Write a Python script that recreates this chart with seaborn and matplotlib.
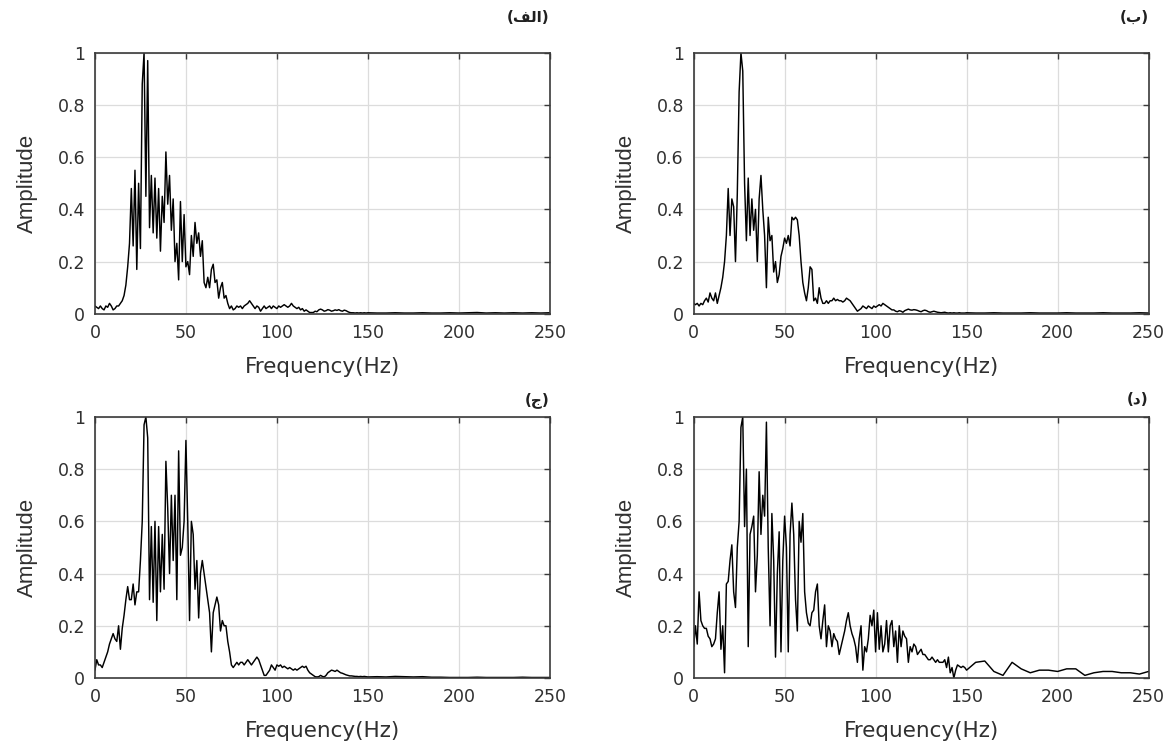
"""Espectros de amplitude normalizados (FFT) — quatro registros, 0–250 Hz."""

import matplotlib

matplotlib.use("Agg")

import matplotlib.pyplot as plt
import numpy as np
import seaborn as sns

sns.set_theme(style="white")
plt.rcParams["font.family"] = ["DejaVu Sans"]

# Grade de frequências (Hz): 1 Hz até 150 Hz, 5 Hz depois
FREQ_HZ = np.r_[0:151, 155:251:5].astype(float)

TITULOS = ["(\ufed2\ufedf\ufe8d)", "(\u0628)", "(\u062c)", "(\u062f)"]

AMP_ALEF = [
    0.03, 0.025, 0.02, 0.03, 0.02, 0.015, 0.03, 0.025, 0.04, 0.03,
    0.015, 0.02, 0.03, 0.03, 0.04, 0.05, 0.07, 0.11, 0.18, 0.27,
    0.48, 0.26, 0.55, 0.17, 0.50, 0.25, 0.88, 1.00, 0.45, 0.97,
    0.33, 0.53, 0.31, 0.52, 0.29, 0.48, 0.24, 0.45, 0.35, 0.62,
    0.42, 0.53, 0.32, 0.44, 0.20, 0.27, 0.13, 0.43, 0.20, 0.38,
    0.18, 0.20, 0.15, 0.30, 0.22, 0.35, 0.27, 0.31, 0.22, 0.28,
    0.12, 0.10, 0.14, 0.10, 0.17, 0.19, 0.12, 0.13, 0.06, 0.10,
    0.12, 0.06, 0.07, 0.04, 0.02, 0.03, 0.015, 0.02, 0.03, 0.025,
    0.03, 0.02, 0.03, 0.035, 0.04, 0.05, 0.04, 0.03, 0.02, 0.03,
    0.025, 0.01, 0.02, 0.03, 0.02, 0.025, 0.03, 0.02, 0.03, 0.025,
    0.02, 0.03, 0.025, 0.03, 0.035, 0.03, 0.025, 0.03, 0.04, 0.03,
    0.025, 0.02, 0.025, 0.015, 0.02, 0.01, 0.015, 0.01, 0.005, 0.005,
    0.005, 0.01, 0.008, 0.015, 0.018, 0.015, 0.01, 0.012, 0.016, 0.014,
    0.01, 0.012, 0.015, 0.013, 0.016, 0.012, 0.01, 0.014, 0.012, 0.008,
    0.005, 0.004, 0.004, 0.003, 0.004, 0.003, 0.004, 0.003, 0.004, 0.003,
    0.004,
    0.003, 0.003, 0.004, 0.003, 0.003, 0.004, 0.003, 0.003, 0.004, 0.003,
    0.004, 0.005, 0.003, 0.004, 0.003, 0.004, 0.003, 0.004, 0.003, 0.004,
]

AMP_BE = [
    0.04, 0.035, 0.04, 0.03, 0.04, 0.035, 0.05, 0.06, 0.045, 0.08,
    0.06, 0.05, 0.08, 0.04, 0.07, 0.10, 0.14, 0.20, 0.30, 0.48,
    0.30, 0.44, 0.41, 0.20, 0.46, 0.85, 1.00, 0.93, 0.50, 0.28,
    0.52, 0.30, 0.44, 0.32, 0.40, 0.20, 0.44, 0.53, 0.40, 0.30,
    0.10, 0.37, 0.28, 0.30, 0.16, 0.20, 0.12, 0.15, 0.22, 0.25,
    0.29, 0.27, 0.30, 0.26, 0.37, 0.36, 0.37, 0.36, 0.30, 0.20,
    0.12, 0.08, 0.05, 0.10, 0.18, 0.17, 0.05, 0.06, 0.04, 0.10,
    0.06, 0.04, 0.04, 0.05, 0.04, 0.05, 0.05, 0.06, 0.05, 0.055,
    0.05, 0.05, 0.045, 0.05, 0.06, 0.055, 0.05, 0.04, 0.03, 0.02,
    0.01, 0.015, 0.02, 0.03, 0.025, 0.02, 0.03, 0.025, 0.02, 0.03,
    0.025, 0.03, 0.035, 0.03, 0.04, 0.035, 0.03, 0.025, 0.02, 0.015,
    0.015, 0.01, 0.008, 0.012, 0.01, 0.006, 0.012, 0.015, 0.018, 0.015,
    0.014, 0.016, 0.015, 0.013, 0.01, 0.008, 0.012, 0.014, 0.012, 0.008,
    0.006, 0.008, 0.01, 0.008, 0.006, 0.005, 0.004, 0.005, 0.006, 0.004,
    0.003, 0.004, 0.003, 0.004, 0.003, 0.003, 0.004, 0.003, 0.003, 0.003,
    0.004,
    0.003, 0.003, 0.004, 0.003, 0.003, 0.003, 0.004, 0.003, 0.003, 0.003,
    0.004, 0.003, 0.003, 0.003, 0.004, 0.003, 0.003, 0.003, 0.004, 0.003,
]

AMP_JIM = [
    0.03, 0.07, 0.05, 0.05, 0.04, 0.06, 0.08, 0.10, 0.13, 0.15,
    0.17, 0.15, 0.14, 0.20, 0.11, 0.19, 0.24, 0.30, 0.35, 0.30,
    0.30, 0.36, 0.28, 0.33, 0.33, 0.45, 0.60, 0.97, 1.00, 0.92,
    0.30, 0.58, 0.29, 0.60, 0.22, 0.58, 0.33, 0.55, 0.34, 0.83,
    0.65, 0.40, 0.70, 0.45, 0.70, 0.30, 0.87, 0.47, 0.50, 0.60,
    0.91, 0.60, 0.22, 0.60, 0.55, 0.34, 0.45, 0.23, 0.40, 0.45,
    0.40, 0.35, 0.30, 0.25, 0.10, 0.25, 0.28, 0.31, 0.28, 0.18,
    0.22, 0.20, 0.20, 0.14, 0.10, 0.05, 0.04, 0.05, 0.06, 0.05,
    0.06, 0.06, 0.05, 0.06, 0.07, 0.06, 0.05, 0.06, 0.07, 0.08,
    0.07, 0.05, 0.03, 0.01, 0.01, 0.02, 0.03, 0.05, 0.04, 0.03,
    0.05, 0.045, 0.05, 0.04, 0.045, 0.04, 0.035, 0.04, 0.035, 0.03,
    0.035, 0.03, 0.035, 0.04, 0.045, 0.04, 0.045, 0.03, 0.02, 0.015,
    0.01, 0.005, 0.004, 0.005, 0.01, 0.006, 0.004, 0.01, 0.02, 0.025,
    0.03, 0.028, 0.025, 0.03, 0.025, 0.02, 0.018, 0.015, 0.012, 0.01,
    0.008, 0.008, 0.007, 0.006, 0.006, 0.005, 0.006, 0.005, 0.006, 0.005,
    0.004,
    0.005, 0.004, 0.006, 0.005, 0.004, 0.005, 0.003, 0.003, 0.002, 0.002,
    0.002, 0.003, 0.002, 0.002, 0.002, 0.002, 0.003, 0.002, 0.002, 0.002,
]

AMP_DAL = [
    0.12, 0.20, 0.13, 0.33, 0.22, 0.20, 0.19, 0.19, 0.16, 0.15,
    0.12, 0.13, 0.15, 0.25, 0.33, 0.11, 0.20, 0.02, 0.36, 0.37,
    0.45, 0.51, 0.33, 0.27, 0.50, 0.60, 0.96, 1.00, 0.58, 0.80,
    0.12, 0.55, 0.58, 0.62, 0.33, 0.47, 0.79, 0.55, 0.70, 0.62,
    0.98, 0.50, 0.20, 0.63, 0.45, 0.08, 0.40, 0.56, 0.10, 0.45,
    0.62, 0.50, 0.10, 0.55, 0.67, 0.55, 0.30, 0.18, 0.60, 0.52,
    0.63, 0.33, 0.25, 0.21, 0.20, 0.25, 0.26, 0.33, 0.36, 0.20,
    0.15, 0.22, 0.28, 0.12, 0.20, 0.18, 0.12, 0.17, 0.15, 0.14,
    0.09, 0.12, 0.15, 0.18, 0.22, 0.25, 0.20, 0.17, 0.15, 0.12,
    0.06, 0.15, 0.20, 0.03, 0.12, 0.10, 0.15, 0.24, 0.20, 0.26,
    0.10, 0.25, 0.11, 0.20, 0.10, 0.13, 0.22, 0.10, 0.20, 0.22,
    0.12, 0.18, 0.06, 0.20, 0.12, 0.18, 0.16, 0.15, 0.06, 0.12,
    0.10, 0.13, 0.12, 0.09, 0.10, 0.11, 0.09, 0.09, 0.08, 0.07,
    0.07, 0.08, 0.07, 0.06, 0.07, 0.06, 0.06, 0.06, 0.07, 0.04,
    0.08, 0.02, 0.04, 0.00, 0.03, 0.05, 0.045, 0.04, 0.045, 0.04,
    0.03,
    0.06, 0.065, 0.025, 0.01, 0.06, 0.035, 0.02, 0.03, 0.03, 0.025,
    0.035, 0.035, 0.01, 0.02, 0.025, 0.025, 0.02, 0.02, 0.015, 0.025,
]

X_TICKS = [0, 50, 100, 150, 200, 250]
Y_TICKS = [0, 0.2, 0.4, 0.6, 0.8, 1]
Y_TICKLABELS = ["0", "0.2", "0.4", "0.6", "0.8", "1"]

COR_TEXTO = "#303030"


def _painel(ax, amp, titulo, pad_titulo):
    sns.lineplot(
        x=FREQ_HZ, y=amp, color="black", linewidth=1.05,
        estimator=None, ax=ax,
    )
    ax.set_xlim(0, 250)
    ax.set_ylim(0, 1)
    ax.set_xticks(X_TICKS)
    ax.set_yticks(Y_TICKS)
    ax.set_yticklabels(Y_TICKLABELS)
    ax.grid(True, color="#dcdcdc", linewidth=0.9)
    ax.set_axisbelow(True)
    for sp in ax.spines.values():
        sp.set_visible(True)
        sp.set_color("#3a3a3a")
        sp.set_linewidth(1.2)
    ax.tick_params(
        direction="in", length=4, width=1.0, color="#3a3a3a",
        top=True, right=True, labelsize=12.5, labelcolor=COR_TEXTO, pad=7,
    )
    ax.set_xlabel(
        "Frequency(Hz)", fontsize=15.5, color=COR_TEXTO, labelpad=11,
    )
    ax.set_ylabel(
        "Amplitude", fontsize=16, color=COR_TEXTO, labelpad=14,
        family=["Liberation Sans", "DejaVu Sans"],
    )
    ax.set_title(
        titulo, loc="right", fontsize=11, fontweight="bold",
        color="#202020", pad=pad_titulo,
    )


def main():
    fig, axes = plt.subplots(2, 2, figsize=(11.72, 7.43), dpi=100)
    fig.subplots_adjust(
        left=0.081, right=0.980, top=0.929, bottom=0.0875,
        wspace=0.316, hspace=0.395,
    )
    series = [AMP_ALEF, AMP_BE, AMP_JIM, AMP_DAL]
    pads = [22, 22, 9, 9]
    for ax, amp, tit, pad in zip(axes.flat, series, TITULOS, pads):
        _painel(ax, amp, tit, pad)
    fig.savefig("out.png", dpi=100)


if __name__ == "__main__":
    main()
